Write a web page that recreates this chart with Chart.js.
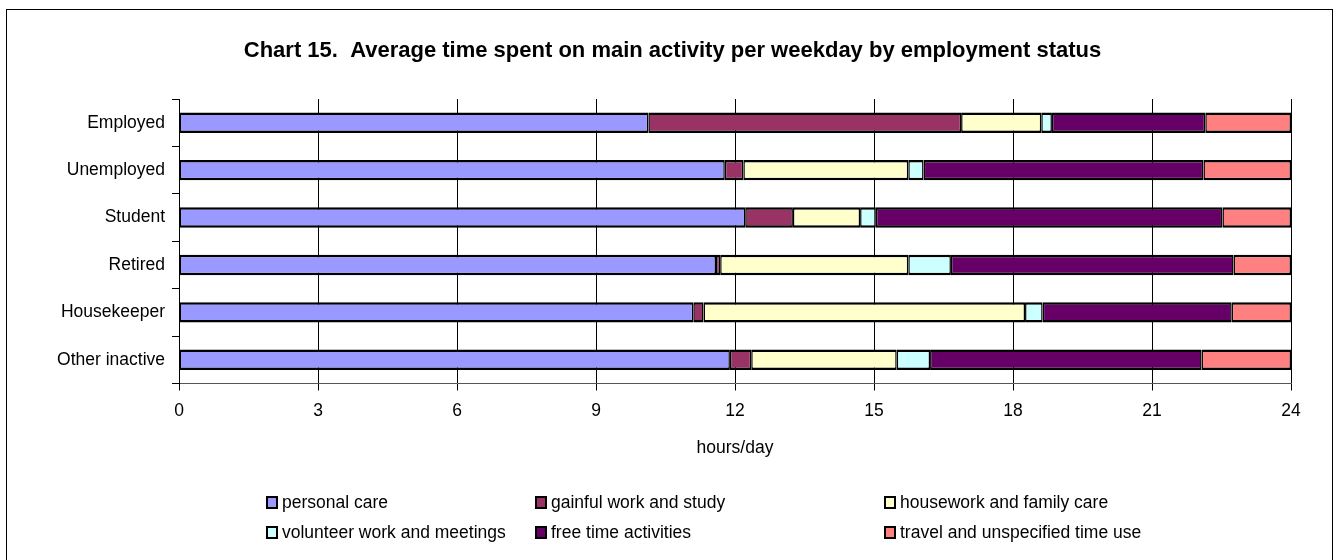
<!DOCTYPE html>
<html>
<head>
<meta charset="utf-8">
<title>Chart 15</title>
<script src="https://cdn.jsdelivr.net/npm/chart.js@4.4.1/dist/chart.umd.min.js"></script>
<style>
    html, body { margin: 0; padding: 0; background: #fff; }
    #wrap { position: relative; width: 1335px; height: 560px; overflow: hidden; font-family: 'Liberation Sans', Arial, sans-serif; }
    #frame { position: absolute; left: 6px; top: 9px; width: 1327px; height: 600px; border: 1px solid #000; box-sizing: border-box; pointer-events: none; }
    #legend { position: absolute; left: 0; top: 0; width: 1335px; height: 560px; pointer-events: none; }
    .legend-item { position: absolute; display: flex; align-items: center; font-size: 17.5px; color: #000; white-space: nowrap; height: 22px; }
    .legend-item .box { width: 12px; height: 13px; border: 2px solid #000; box-sizing: border-box; margin-right: 4px; }
</style>
</head>
<body>
<div id="wrap">
    <canvas id="timeUseChart" width="1335" height="560"></canvas>
    <div id="legend"></div>
    <div id="frame"></div>
</div>
<script>
// hours per weekday, one array per activity, in category order
const categories = ['Employed', 'Unemployed', 'Student', 'Retired', 'Housekeeper', 'Other inactive'];

const personalCare   = [10.13, 11.78, 12.22, 11.59, 11.10, 11.89];
const gainfulWork    = [6.75, 0.40, 1.03, 0.09, 0.22, 0.46];
const housework      = [1.73, 3.56, 1.45, 4.06, 6.94, 3.14];
const volunteerWork  = [0.23, 0.33, 0.34, 0.92, 0.38, 0.72];
const freeTime       = [3.31, 6.04, 7.48, 6.10, 4.08, 5.86];
const travelOther    = [1.85, 1.89, 1.48, 1.24, 1.28, 1.93];

const seriesNames = [
    'personal care', 'gainful work and study', 'housework and family care',
    'volunteer work and meetings', 'free time activities', 'travel and unspecified time use'
];
const seriesValues = [personalCare, gainfulWork, housework, volunteerWork, freeTime, travelOther];
const seriesColors = ['#9999ff', '#993366', '#ffffcc', '#ccffff', '#660066', '#ff8080'];

const xTicks = [0, 3, 6, 9, 12, 15, 18, 21, 24];

const FONT = "'Liberation Sans', Arial, sans-serif";

// legend: 3 columns x 2 rows, positions in px
const legendCols = [266, 535, 884];
const legendRows = [502, 532];

function buildLegend() {
    const legend = document.getElementById('legend');
    seriesNames.forEach((name, i) => {
        const item = document.createElement('div');
        item.className = 'legend-item';
        item.style.left = legendCols[i % 3] + 'px';
        item.style.top = (legendRows[Math.floor(i / 3)] - 11) + 'px';
        item.innerHTML = `<span class="box" style="background:${seriesColors[i]}"></span><span>${name}</span>`;
        legend.appendChild(item);
    });
}

function renderChart() {
    const ctx = document.getElementById('timeUseChart').getContext('2d');
    const datasets = seriesNames.map((name, i) => ({
        label: name,
        data: seriesValues[i],
        backgroundColor: seriesColors[i],
        borderColor: '#000',
        borderWidth: { top: 2.5, bottom: 2.5, left: 1.5, right: 1.5 },
        borderSkipped: false,
        barPercentage: 0.43,
        categoryPercentage: 1.0
    }));

    new Chart(ctx, {
        type: 'bar',
        data: { labels: categories, datasets },
        options: {
            indexAxis: 'y',
            responsive: false,
            animation: false,
            layout: { padding: { left: 54, right: 44, top: 0, bottom: 101.5 } },
            plugins: {
                legend: { display: false },
                tooltip: { enabled: false },
                title: {
                    display: true,
                    text: 'Chart 15.  Average time spent on main activity per weekday by employment status',
                    color: '#000',
                    font: { family: FONT, size: 22, weight: 'bold' },
                    padding: { top: 37.8, bottom: 34.8 }
                }
            },
            scales: {
                x: {
                    stacked: true,
                    min: 0,
                    max: 24,
                    afterBuildTicks: (scale) => { scale.ticks = xTicks.map(v => ({ value: v })); },
                    afterFit: (scale) => { scale.height = 75; },
                    grid: { color: '#000', lineWidth: 1, tickLength: 7, drawTicks: true },
                    border: { display: true, color: '#555', width: 1 },
                    ticks: { color: '#000', font: { family: FONT, size: 17.5 }, padding: 10, maxRotation: 0 },
                    title: {
                        display: true,
                        text: 'hours/day',
                        color: '#000',
                        font: { family: FONT, size: 17.5 },
                        padding: { top: 0, bottom: 0 }
                    }
                },
                y: {
                    stacked: true,
                    afterFit: (scale) => { scale.width = 125; },
                    grid: { offset: true, drawOnChartArea: false, drawTicks: true, tickLength: 7, color: '#000' },
                    border: { display: true, color: '#000', width: 1 },
                    ticks: { color: '#000', font: { family: FONT, size: 17.5 }, padding: 7 }
                }
            }
        }
    });
}

document.addEventListener('DOMContentLoaded', () => {
    buildLegend();
    renderChart();
});
</script>
</body>
</html>
